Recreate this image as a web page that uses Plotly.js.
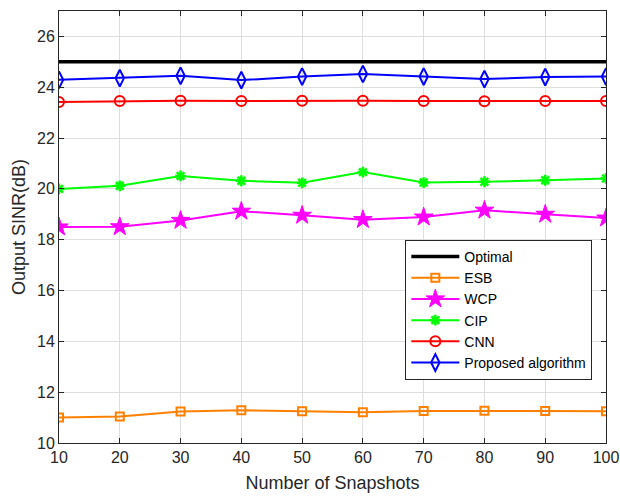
<!DOCTYPE html>
<html><head><meta charset="utf-8">
<script src="https://cdn.plot.ly/plotly-3.0.1.min.js"></script>
<style>html,body{margin:0;padding:0;background:#fff}#plot{width:620px;height:497px}</style>
</head><body><div id="plot"></div>
<script>
var snapshots = [10,20,30,40,50,60,70,80,90,100];
var optimal  = [25,25,25,25,25,25,25,25,25,25];
var esb      = [11.00,11.04,11.24,11.29,11.25,11.21,11.26,11.27,11.26,11.25];
var wcp      = [18.50,18.51,18.76,19.12,18.96,18.79,18.89,19.16,19.00,18.85];
var cip      = [20.00,20.12,20.51,20.32,20.24,20.66,20.25,20.28,20.34,20.41];
var cnn      = [23.42,23.46,23.47,23.46,23.47,23.47,23.46,23.45,23.46,23.46];
var proposed = [24.29,24.36,24.45,24.28,24.42,24.52,24.42,24.32,24.40,24.42];
var xTicks = [10,20,30,40,50,60,70,80,90,100];
var yTicks = [10,12,14,16,18,20,22,24,26];

var traces = [
  {x:snapshots,y:optimal,name:'Optimal',mode:'lines',line:{color:'#000000',width:3.5}},
  {x:snapshots,y:esb,name:'ESB',mode:'lines+markers',line:{color:'#FF8000',width:2},
   marker:{symbol:'square-open',size:8,color:'#FF8000',line:{width:2,color:'#FF8000'}}},
  {x:snapshots,y:wcp,name:'WCP',mode:'lines+markers',line:{color:'#FF00FF',width:2},
   marker:{symbol:'star',size:14,color:'#FF00FF',line:{width:1,color:'#FF00FF'}}},
  {x:snapshots,y:cip,name:'CIP',mode:'lines+markers',line:{color:'#00FF00',width:2},
   marker:{symbol:'asterisk-open',size:9,color:'#00FF00',line:{width:2.5,color:'#00FF00'}}},
  {x:snapshots,y:cnn,name:'CNN',mode:'lines+markers',line:{color:'#FF0000',width:2},
   marker:{symbol:'circle-open',size:10,color:'#FF0000',line:{width:2,color:'#FF0000'}}},
  {x:snapshots,y:proposed,name:'Proposed algorithm',mode:'lines+markers',line:{color:'#0000FF',width:2},
   marker:{symbol:'diamond-tall-open',size:12,color:'#0000FF',line:{width:2,color:'#0000FF'}}}
];

var FONT = 'Liberation Sans, Arial, sans-serif';
var axisCommon = {
  showline:true, linecolor:'#262626', linewidth:1, mirror:'ticks',
  ticks:'inside', ticklen:5, tickcolor:'#262626',
  showgrid:true, gridcolor:'#dedede', gridwidth:1, zeroline:false,
  ticklabeloverflow:'allow',
  tickfont:{family:FONT, size:16, color:'#262626'}
};

var layout = {
  width:620, height:497,
  margin:{l:59, r:14, t:11, b:54},
  paper_bgcolor:'#ffffff', plot_bgcolor:'#ffffff',
  font:{family:FONT, color:'#262626'},
  showlegend:true,
  xaxis:Object.assign({}, axisCommon, {
    range:[10,100], tickvals:xTicks, ticktext:xTicks.map(String),
    title:{text:'Number of Snapshots', font:{size:18, color:'#262626'}, standoff:11}
  }),
  yaxis:Object.assign({}, axisCommon, {
    range:[10,27], tickvals:yTicks, ticktext:yTicks.map(String),
    title:{text:'Output SINR(dB)', font:{size:18, color:'#262626'}, standoff:6}
  }),
  legend:{
    x:0.975, y:0.146, xanchor:'right', yanchor:'bottom',
    bgcolor:'#ffffff', bordercolor:'#262626', borderwidth:1,
    font:{family:FONT, size:14, color:'#000000'},
    tracegroupgap:0, itemwidth:48
  }
};

Plotly.newPlot('plot', traces, layout, {displayModeBar:false, staticPlot:true});
</script></body></html>
